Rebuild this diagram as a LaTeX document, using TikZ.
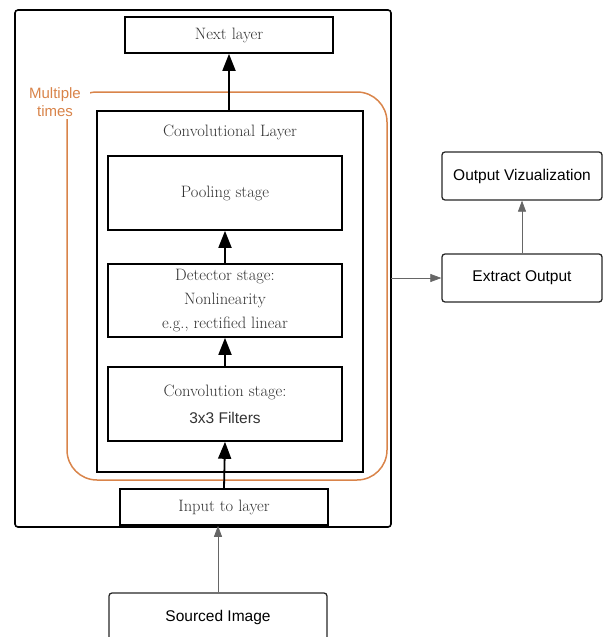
\documentclass[tikz,border=0pt]{standalone}
\usepackage{fontspec}
\newfontfamily\arialfont{Liberation Sans}
\usetikzlibrary{arrows.meta}
\definecolor{orng}{HTML}{D9844A}
\definecolor{txtg}{HTML}{333333}
\begin{document}
\begin{tikzpicture}[x=1pt,y=-1pt,
  cmbox/.style={draw=black,line width=1.6pt,inner sep=0pt,text=txtg,font=\fontsize{16.5}{19}\selectfont,align=center},
  sbox/.style={draw=black!85,line width=1.3pt,rounded corners=3pt,inner sep=0pt,font=\arialfont\fontsize{15.5}{18}\selectfont,align=center},
  bigarrow/.style={line width=1.8pt,-{Triangle[length=17pt,width=13pt]}},
  thinarrow/.style={draw=black!60,line width=0.7pt,-{Triangle[length=11pt,width=8pt]}}]
\useasboundingbox (0,0) rectangle (603,637);
% outer frame
\draw[line width=1.6pt,rounded corners=3pt] (15,10) rectangle (391,527);
% orange loop
\draw[orng,line width=1.5pt,rounded corners=30pt] (67,92) rectangle (387,480);
\node[fill=white,text=orng,font=\arialfont\fontsize{15}{18}\selectfont,align=center,minimum width=70pt,minimum height=34pt,inner sep=0pt] (mult) at (55,102) {Multiple\\times};
\node[cmbox,minimum width=208pt,minimum height=36pt] (next) at (229,35) {Next layer};
\node[cmbox,fill=white,minimum width=266pt,minimum height=361pt] (conv) at (230,291.5) {};
\node[text=txtg,font=\fontsize{16.5}{19}\selectfont] (convlbl) at (230,132) {Convolutional Layer};
\node[cmbox,minimum width=234pt,minimum height=74pt] (pool) at (225,193) {Pooling stage};
\node[cmbox,font=\fontsize{16.5}{24}\selectfont,minimum width=234pt,minimum height=73pt] (det) at (225,300.5) {Detector stage:\\ Nonlinearity\\ e.g., rectified linear};
\node[cmbox,minimum width=234pt,minimum height=74pt] (cst) at (225,404) {Convolution stage:\\[8pt] {\arialfont\fontsize{15.5}{18}\selectfont 3x3 Filters}};
\node[cmbox,fill=white,minimum width=208pt,minimum height=36pt] (inp) at (224,507) {Input to layer};
\node[sbox,minimum width=218pt,minimum height=52pt] (src) at (218,619) {\raisebox{6pt}{Sourced Image}};
\node[sbox,minimum width=160pt,minimum height=48pt] (viz) at (522,176) {Output Vizualization};
\node[sbox,minimum width=160pt,minimum height=48pt] (ext) at (522,278) {Extract Output};
% arrows
\draw[bigarrow] (conv.north -| next.south) -- (next.south);
\draw[bigarrow] (det.north) -- (pool.south);
\draw[bigarrow] (cst.north) -- (det.south);
\draw[bigarrow] (inp.north) -- (cst.south);
\draw[thinarrow] (src.north) -- (src.north |- inp.south);
\coordinate (outR) at (391,278);
\draw[thinarrow] (outR) -- (ext.west);
\draw[thinarrow] (ext.north) -- (viz.south);
\end{tikzpicture}
\end{document}
